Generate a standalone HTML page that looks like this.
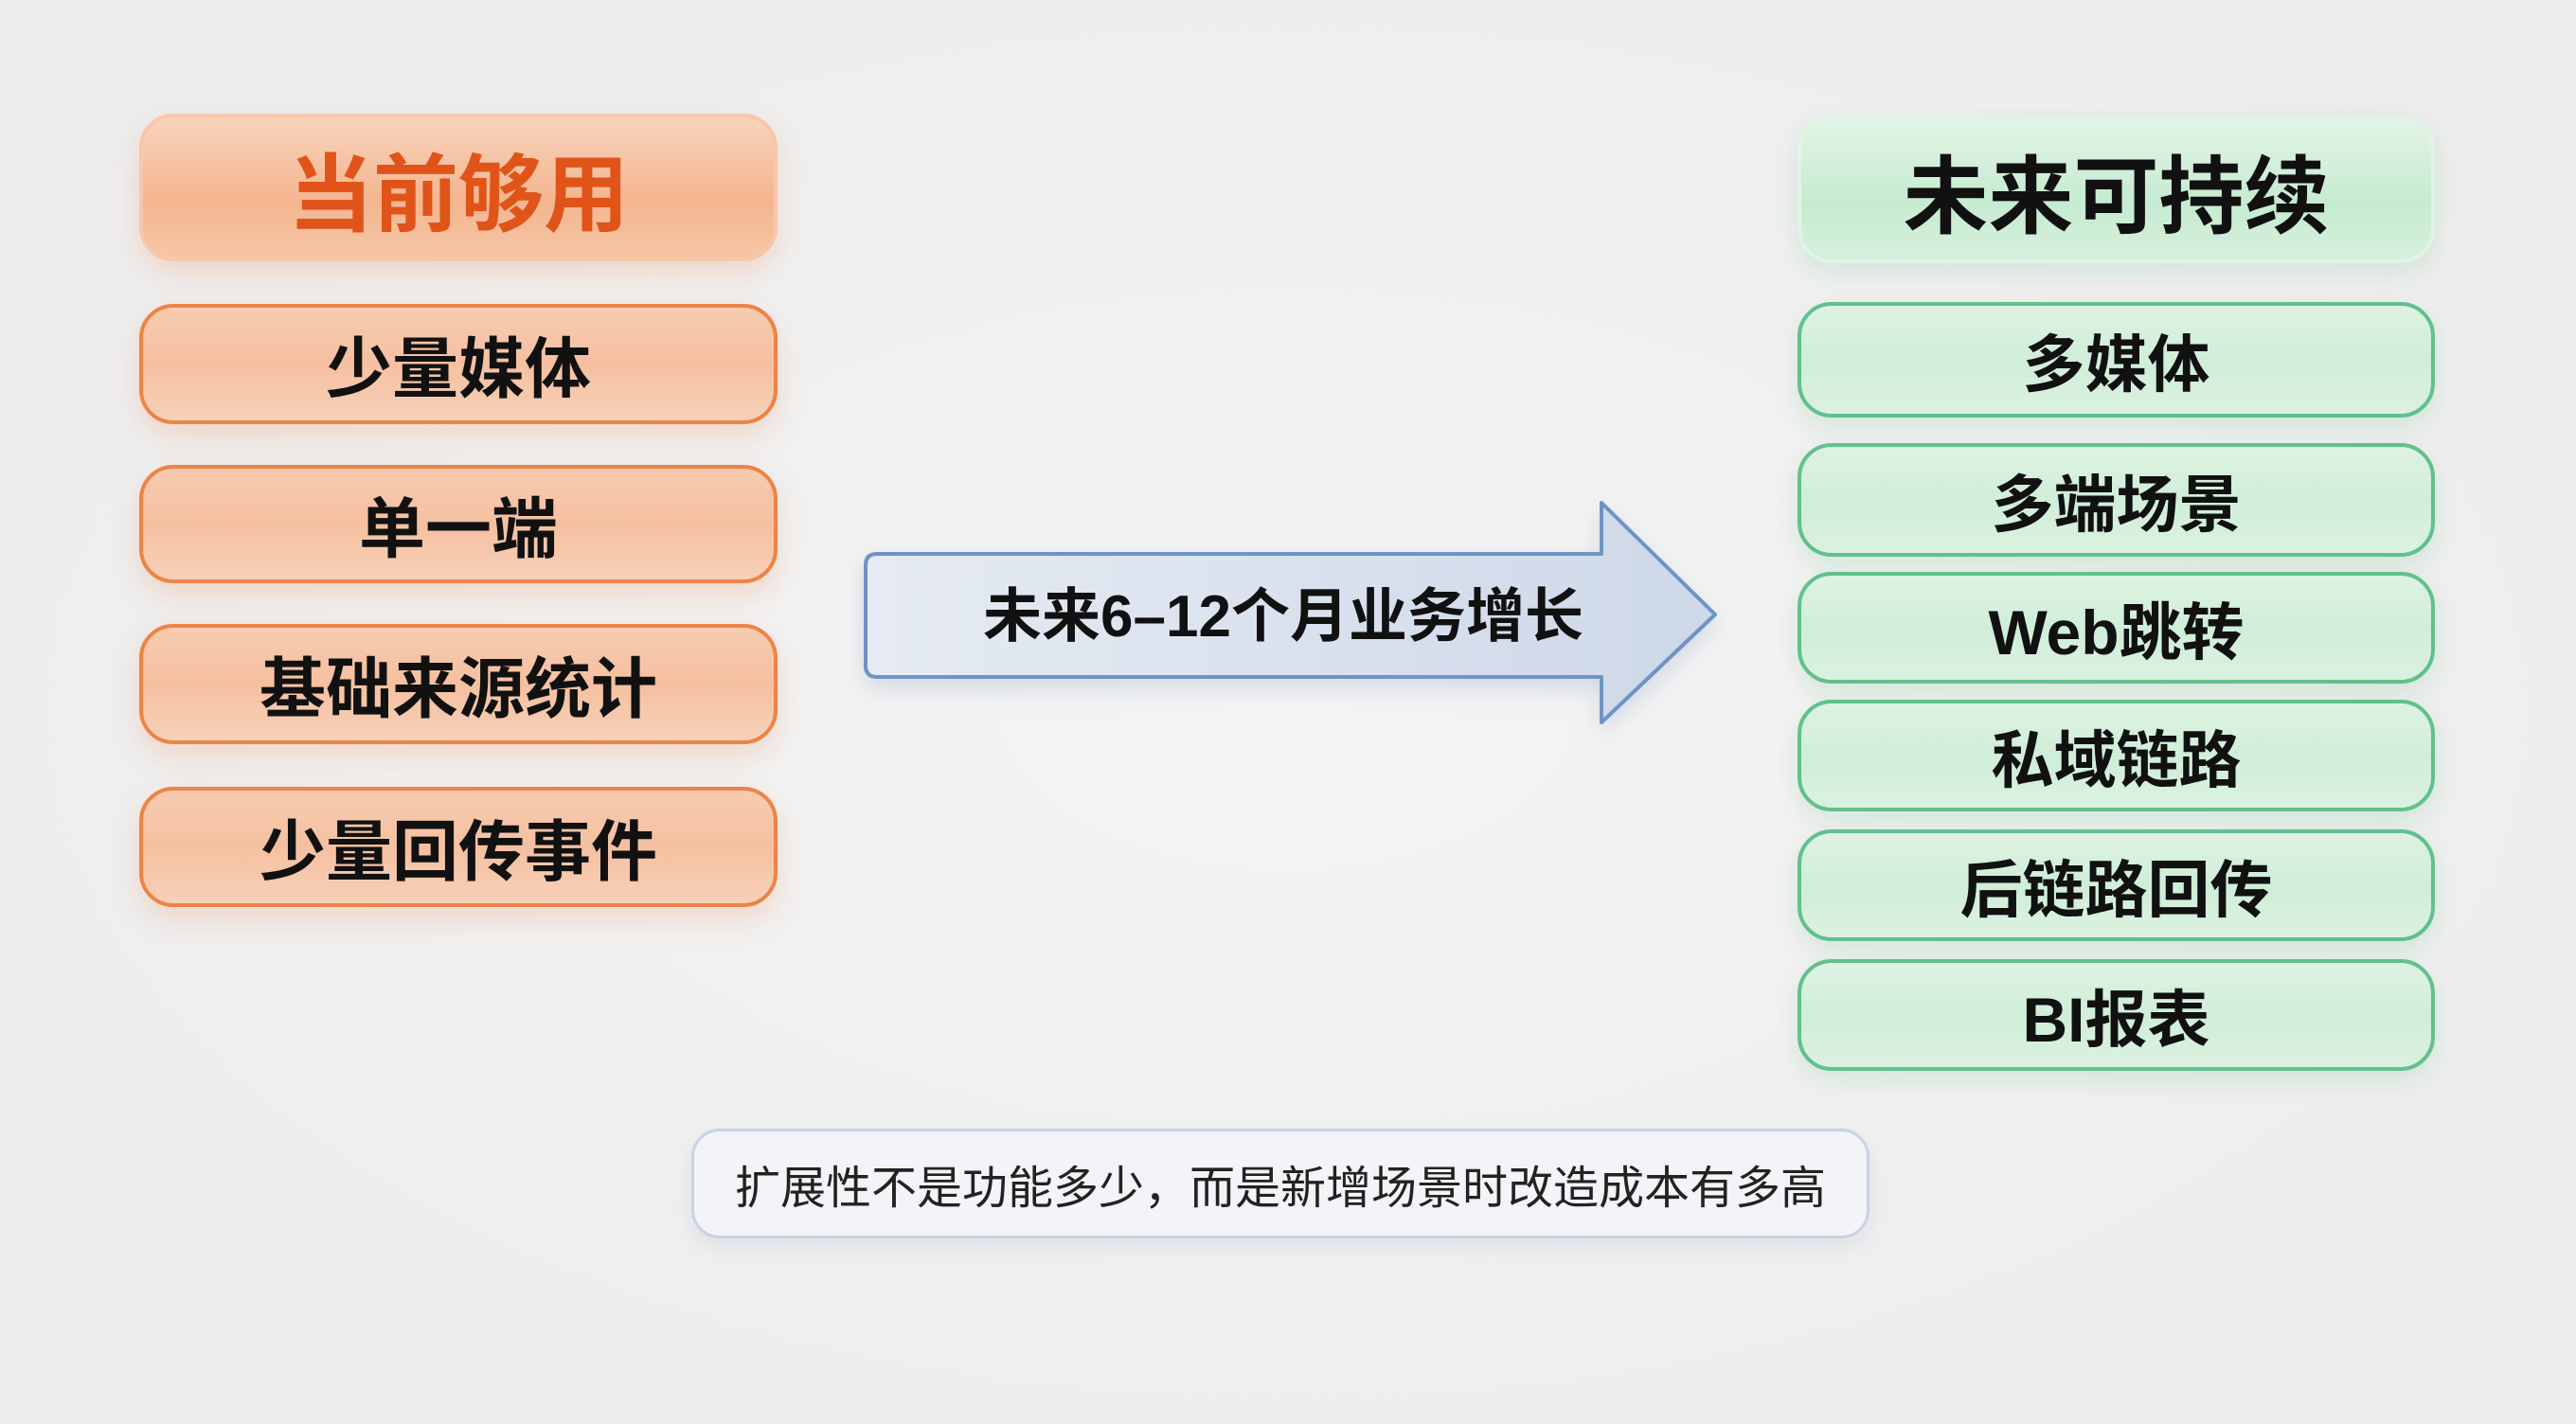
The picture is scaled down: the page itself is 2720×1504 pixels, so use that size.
<!DOCTYPE html>
<html><head><meta charset="utf-8"><style>
body{margin:0;width:2720px;height:1504px;background:radial-gradient(ellipse at center,#f4f4f4 0%,#ececec 100%);position:relative;overflow:hidden;font-family:"Liberation Sans","Noto Sans CJK SC",sans-serif;}
.b{position:absolute;box-sizing:border-box;display:flex;align-items:center;justify-content:center;color:#111;font-weight:bold;}
.o{left:147px;width:674px;border:4px solid #ec8446;border-radius:36px;background:linear-gradient(180deg,#f7cbb0 0%,#f5c0a0 50%,#f7d0b8 100%);box-shadow:0 12px 30px rgba(240,140,80,.25);font-size:70px;}
.g{left:1898px;width:673px;border:4px solid #62c08c;border-radius:36px;background:linear-gradient(180deg,#dff2e3 0%,#cfeed8 50%,#dcf1e1 100%);box-shadow:0 10px 26px rgba(100,190,130,.2);font-size:66px;}
</style></head><body>
<div class="b o" style="top:120px;height:156px;border:4px solid #f6c7aa;background:linear-gradient(180deg,#f8d3bc,#f4b58f 60%,#f6c6a6);color:#e0541a;font-size:90px;">当前够用</div>
<div class="b o" style="top:321px;height:127px;">少量媒体</div>
<div class="b o" style="top:491px;height:125px;">单一端</div>
<div class="b o" style="top:659px;height:127px;">基础来源统计</div>
<div class="b o" style="top:831px;height:127px;">少量回传事件</div>

<div class="b g" style="top:121px;height:157px;border:4px solid #e2f3e6;background:linear-gradient(180deg,#e3f4e7,#c6ebd0 60%,#d6f0dc);font-size:90px;">未来可持续</div>
<div class="b g" style="top:319px;height:122px;">多媒体</div>
<div class="b g" style="top:468px;height:120px;">多端场景</div>
<div class="b g" style="top:604px;height:118px;">Web跳转</div>
<div class="b g" style="top:739px;height:118px;">私域链路</div>
<div class="b g" style="top:876px;height:118px;">后链路回传</div>
<div class="b g" style="top:1013px;height:118px;">BI报表</div>

<svg style="position:absolute;left:0;top:0" width="2720" height="1504">
<defs><linearGradient id="a" x1="0" x2="1"><stop offset="0" stop-color="#e6ebf3"/><stop offset="1" stop-color="#cdd8e8"/></linearGradient>
<filter id="s"><feDropShadow dx="0" dy="10" stdDeviation="12" flood-color="#8aa0c0" flood-opacity=".3"/></filter></defs>
<path d="M926,585 L1691,585 L1691,531 L1811,649 L1691,763 L1691,715 L926,715 Q914,715 914,703 L914,597 Q914,585 926,585 Z" fill="url(#a)" stroke="#6f93c6" stroke-width="4" stroke-linejoin="round" filter="url(#s)"/>
<text x="1355" y="672" text-anchor="middle" font-size="62" font-weight="bold" fill="#111" font-family="Liberation Sans, Noto Sans CJK SC, sans-serif">未来6–12个月业务增长</text>
</svg>

<div class="b" style="left:730px;top:1192px;width:1244px;height:116px;border:3px solid #c7d3e6;border-radius:30px;background:#f3f4f7;box-shadow:0 8px 20px rgba(120,140,180,.15);font-size:48px;font-weight:normal;color:#222;">扩展性不是功能多少，而是新增场景时改造成本有多高</div>
</body></html>
